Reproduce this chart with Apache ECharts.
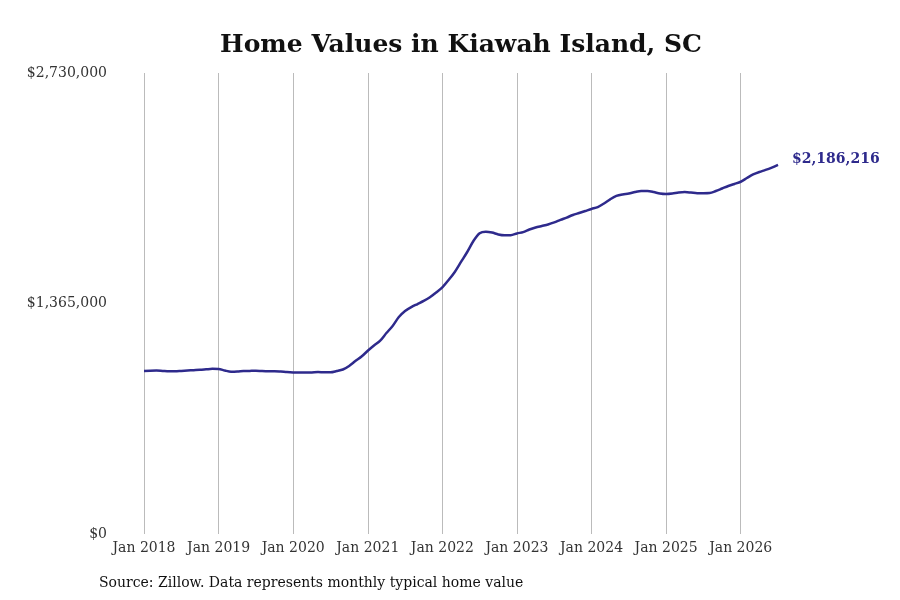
<!DOCTYPE html>
<html>
<head>
<meta charset="utf-8">
<script src="https://cdn.jsdelivr.net/npm/echarts@6/dist/echarts.min.js"></script>
<style>
html,body{margin:0;padding:0;background:#fff;}
#main{width:900px;height:600px;}
</style>
</head>
<body>
<div id="main"></div>
<script>
const years = [2018,2019,2020,2021,2022,2023,2024,2025,2026];
const monthNames = ['Jan','Feb','Mar','Apr','May','Jun','Jul','Aug','Sep','Oct','Nov','Dec'];
const values2018 = [965000,967000,968000,966000,964000,964000,966000,968000,970000,972000,975000,978000];
const values2019 = [977000,968000,961000,962000,965000,966000,967000,965000,964000,964000,962000,959000];
const values2020 = [957000,956000,956000,957000,959000,958000,958000,965000,974000,995000,1024000,1051000];
const values2021 = [1085000,1116000,1145000,1190000,1232000,1285000,1321000,1344000,1362000,1380000,1402000,1430000];
const values2022 = [1461000,1504000,1552000,1611000,1670000,1735000,1781000,1790000,1785000,1774000,1769000,1769000];
const values2023 = [1780000,1788000,1803000,1815000,1824000,1833000,1845000,1860000,1874000,1889000,1901000,1913000];
const values2024 = [1925000,1936000,1957000,1982000,2002000,2011000,2016000,2025000,2031000,2031000,2025000,2016000];
const values2025 = [2013000,2016000,2022000,2025000,2022000,2018000,2018000,2019000,2031000,2046000,2061000,2073000];
const values2026 = [2086000,2108000,2129000,2144000,2156000,2170000,2186216];
const yTicks = [0,1365000,2730000];
const titleText = 'Home Values in Kiawah Island, SC';
const sourceText = 'Source: Zillow. Data represents monthly typical home value';

const values = [].concat(values2018,values2019,values2020,values2021,values2022,values2023,values2024,values2025,values2026);
const categories = [];
years.forEach(y => monthNames.forEach(m => categories.push(m + ' ' + y)));
categories.length = values.length;

function fmt(v){ return '$' + Math.round(v).toLocaleString('en-US'); }
const isJan = (i, v) => v.indexOf('Jan') === 0;

const chart = echarts.init(document.getElementById('main'));
chart.setOption({
  animation:false,
  backgroundColor:'#ffffff',
  textStyle:{fontFamily:'DejaVu Serif'},
  title:{
    text:titleText,
    top:28, left:456, textAlign:'center',
    textStyle:{fontFamily:'DejaVu Serif',fontWeight:'bold',fontSize:25,color:'#111'}
  },
  graphic:[{
    type:'text', left:99, top:576,
    style:{text:sourceText,font:'14px "DejaVu Serif"',fill:'#111'}
  }],
  grid:{left:144,right:122,top:73,bottom:66},
  xAxis:{
    type:'category',
    data:categories,
    boundaryGap:false,
    axisLine:{show:false},
    axisTick:{show:false},
    axisLabel:{interval:isJan,color:'#333',fontSize:14,margin:7,fontFamily:'DejaVu Serif'},
    splitLine:{show:true,interval:isJan,lineStyle:{color:'#bbbbbb',width:1}}
  },
  yAxis:{
    type:'value',
    min:yTicks[0], max:yTicks[2], interval:yTicks[1],
    axisLine:{show:false},
    axisTick:{show:false},
    splitLine:{show:false},
    axisLabel:{formatter:fmt,color:'#333',fontSize:14,margin:37,padding:[2,0,0,0],fontFamily:'DejaVu Serif'}
  },
  series:[{
    type:'line',
    data:values,
    smooth:0.3,
    showSymbol:false,
    symbol:'none',
    lineStyle:{color:'#2e2a8c',width:2.5},
    endLabel:{
      show:true,
      formatter:p => fmt(p.value),
      color:'#2e2a8c',
      fontWeight:'bold',
      fontSize:14,
      fontFamily:'DejaVu Serif',
      distance:14,
      offset:[0,-5]
    }
  }]
});
</script>
</body>
</html>
